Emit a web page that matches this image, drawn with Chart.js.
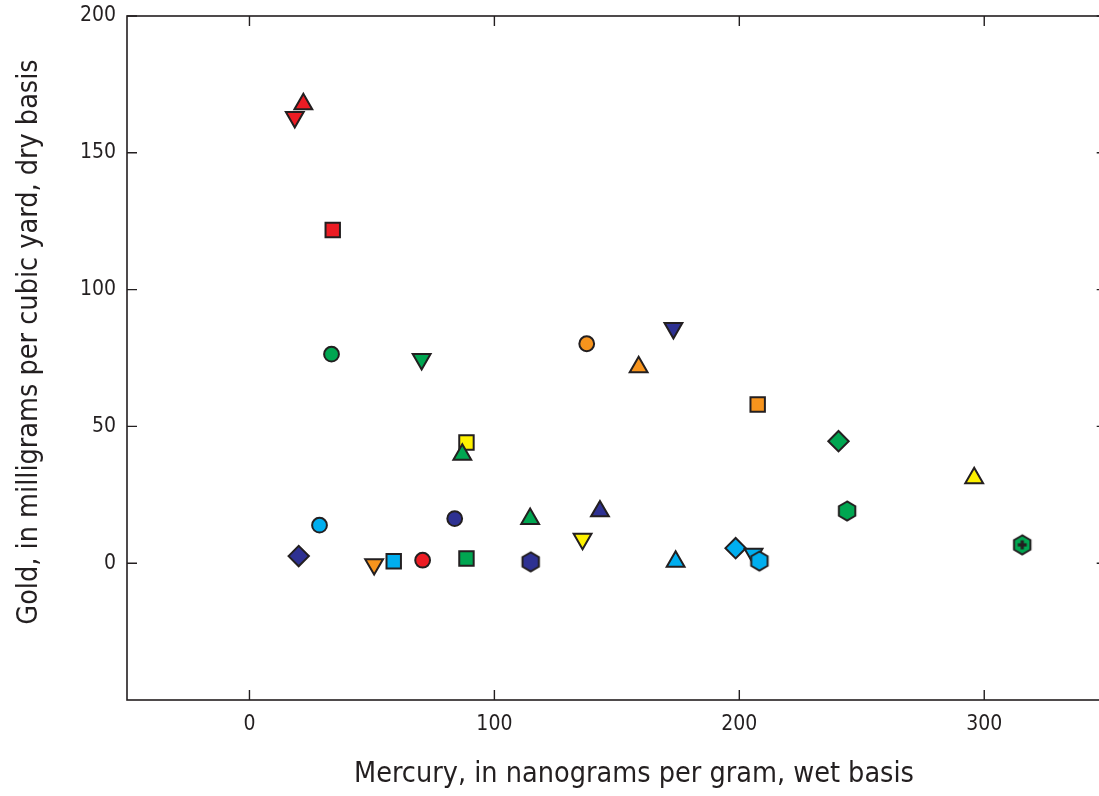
<!DOCTYPE html>
<html>
<head>
<meta charset="utf-8">
<script src="https://cdn.jsdelivr.net/npm/chart.js@4/dist/chart.umd.min.js"></script>
<style>
  html, body { margin: 0; padding: 0; background: #fff; overflow: hidden; }
  canvas { display: block; }
</style>
</head>
<body>
<canvas id="c" width="1119" height="796"></canvas>
<script>
// Mercury (ng/g, wet) vs gold (mg per cubic yard, dry), one series per symbol colour
const redX = [18.5, 22.0, 34.0, 70.7];
const redY = [163.0, 167.8, 121.8, 1.1];
const redSym = ['triangleDown', 'triangle', 'square', 'circle'];

const greenX = [33.5, 70.3, 86.9, 114.6, 88.6, 240.5, 244.0, 315.5];
const greenY = [76.4, 74.6, 39.7, 16.2, 1.7, 44.6, 19.1, 6.7];
const greenSym = ['circle', 'triangleDown', 'triangle', 'triangle', 'square', 'diamond', 'hexagon', 'hexagonCross'];

const navyX = [20.1, 83.8, 114.8, 143.1, 173.1];
const navyY = [2.6, 16.3, 0.5, 19.0, 85.9];
const navySym = ['diamond', 'circle', 'hexagon', 'triangle', 'triangleDown'];

const cyanX = [28.6, 58.9, 174.0, 198.5, 205.8, 208.2];
const cyanY = [13.9, 0.7, 0.6, 5.5, 3.4, 0.8];
const cyanSym = ['circle', 'square', 'triangle', 'diamond', 'triangleDown', 'hexagon'];

const orangeX = [50.9, 137.7, 158.9, 207.5];
const orangeY = [-0.4, 80.2, 71.7, 58.0];
const orangeSym = ['triangleDown', 'circle', 'triangle', 'square'];

const yellowX = [88.6, 136.0, 295.9];
const yellowY = [44.1, 8.9, 31.1];
const yellowSym = ['square', 'triangleDown', 'triangle'];

const xTicks = [0, 100, 200, 300];
const yTicks = [0, 50, 100, 150, 200];

const xTitle = 'Mercury, in nanograms per gram, wet basis';
const yTitle = 'Gold, in milligrams per cubic yard, dry basis';

const INK = '#231F20';
const FONT = "'Liberation Sans Narrow', 'DejaVu Sans Condensed', sans-serif";

// Hexagon markers are drawn into small canvases and used as point images
function hexImage(fill, cross) {
  const s = 26, c = document.createElement('canvas');
  c.width = s; c.height = s;
  const g = c.getContext('2d');
  const r = 9.5, cx = s / 2, cy = s / 2;
  g.beginPath();
  for (let i = 0; i < 6; i++) {
    const a = Math.PI / 2 + i * Math.PI / 3;
    const px = cx + r * Math.cos(a), py = cy - r * Math.sin(a);
    if (i === 0) g.moveTo(px, py); else g.lineTo(px, py);
  }
  g.closePath();
  g.fillStyle = fill; g.fill();
  g.lineWidth = 2; g.strokeStyle = INK; g.lineJoin = 'miter'; g.stroke();
  if (cross) {
    g.fillStyle = INK;
    g.fillRect(cx - 4.5, cy - 1.6, 9, 3.2);
    g.fillRect(cx - 1.6, cy - 4.5, 3.2, 9);
  }
  return c;
}

function makeSet(label, color, xs, ys, syms) {
  const hex = hexImage(color, false), hexC = hexImage(color, true);
  const style = syms.map(s => s === 'circle' ? 'circle'
    : s === 'square' ? 'rect'
    : s === 'diamond' ? 'rectRot'
    : s === 'hexagon' ? hex
    : s === 'hexagonCross' ? hexC
    : 'triangle');
  const rot = syms.map(s => s === 'triangleDown' ? 180 : 0);
  const rad = syms.map(s => s === 'circle' ? 7.4 : s === 'diamond' ? 10.2 : s === 'square' ? 10.2 : 10.3);
  return {
    label,
    data: xs.map((x, i) => ({ x, y: ys[i] })),
    backgroundColor: color,
    borderColor: INK,
    borderWidth: 2,
    pointStyle: style,
    rotation: rot,
    pointRadius: rad,
    pointHoverRadius: rad
  };
}

// Frame, inward tick marks on all four sides, and the axis titles
const framePlugin = {
  id: 'frame',
  afterDatasetsDraw(chart) {
    const { ctx, chartArea: a, scales } = chart;
    ctx.save();
    ctx.strokeStyle = INK;
    ctx.lineWidth = 1.6;
    ctx.strokeRect(a.left, a.top, a.right - a.left, a.bottom - a.top);
    ctx.lineWidth = 1.4;
    const L = 10;
    ctx.beginPath();
    xTicks.forEach(v => {
      const px = scales.x.getPixelForValue(v);
      ctx.moveTo(px, a.bottom); ctx.lineTo(px, a.bottom - L);
      ctx.moveTo(px, a.top); ctx.lineTo(px, a.top + L);
    });
    yTicks.forEach(v => {
      const py = scales.y.getPixelForValue(v);
      ctx.moveTo(a.left, py); ctx.lineTo(a.left + L, py);
      ctx.moveTo(a.right, py); ctx.lineTo(a.right - L, py);
    });
    ctx.stroke();

    ctx.fillStyle = INK;
    ctx.font = '28.5px ' + FONT;
    ctx.textAlign = 'center';
    ctx.textBaseline = 'middle';
    ctx.fillText(xTitle, 634, 775);
    ctx.translate(30, 342);
    ctx.rotate(-Math.PI / 2);
    ctx.fillText(yTitle, 0, 0);
    ctx.restore();
  }
};

new Chart(document.getElementById('c'), {
  type: 'scatter',
  data: {
    datasets: [
      makeSet('Red', '#ED1C24', redX, redY, redSym),
      makeSet('Green', '#00A651', greenX, greenY, greenSym),
      makeSet('Navy', '#2E3192', navyX, navyY, navySym),
      makeSet('Orange', '#F7941D', orangeX, orangeY, orangeSym),
      makeSet('Yellow', '#FFF200', yellowX, yellowY, yellowSym),
      makeSet('Cyan', '#00AEEF', cyanX, cyanY, cyanSym)
    ]
  },
  options: {
    responsive: false,
    animation: false,
    layout: { padding: { left: 0, top: 16, right: 4.5, bottom: 0 } },
    plugins: { legend: { display: false }, tooltip: { enabled: false } },
    scales: {
      x: {
        type: 'linear',
        min: -50, max: 350,
        afterBuildTicks(s) { s.ticks = xTicks.map(v => ({ value: v })); },
        afterFit(s) { s.height = 96; s.paddingLeft = 0; s.paddingRight = 0; },
        grid: { display: false, drawTicks: false },
        border: { display: false },
        ticks: { color: INK, padding: 12, font: { family: FONT, size: 21 } }
      },
      y: {
        type: 'linear',
        min: -50, max: 200,
        afterBuildTicks(s) { s.ticks = yTicks.map(v => ({ value: v })); },
        afterFit(s) { s.width = 127; s.paddingTop = 0; s.paddingBottom = 0; },
        grid: { display: false, drawTicks: false },
        border: { display: false },
        ticks: { color: INK, padding: 11, font: { family: FONT, size: 21 } }
      }
    }
  },
  plugins: [framePlugin]
});
</script>
</body>
</html>
